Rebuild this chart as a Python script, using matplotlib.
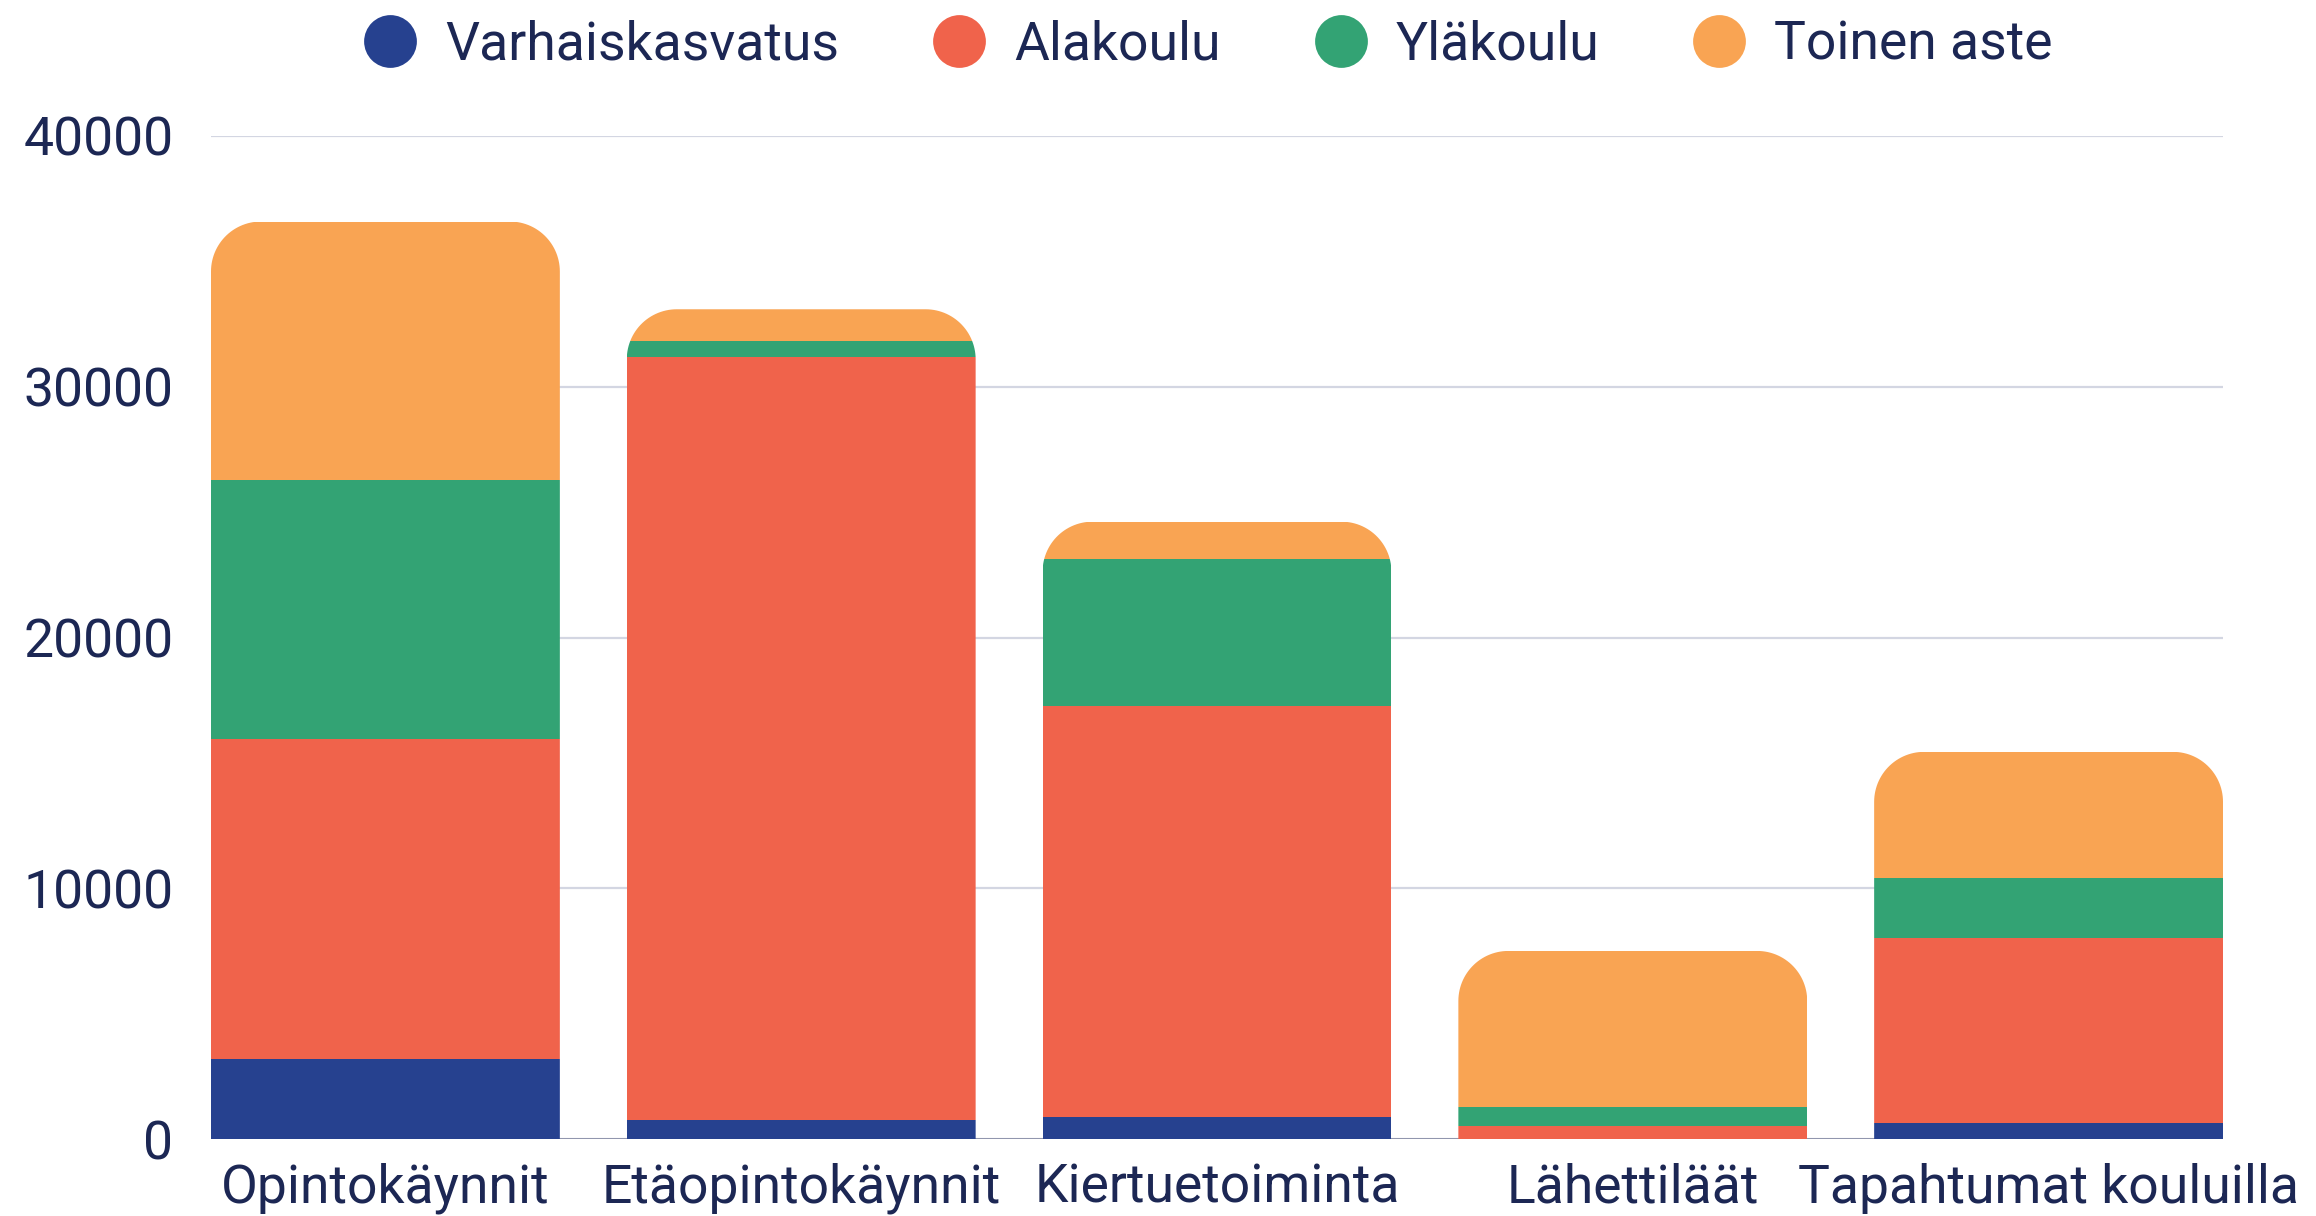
import matplotlib
matplotlib.use("Agg")
import matplotlib.pyplot as plt
import numpy as np
from matplotlib.path import Path
from matplotlib.patches import PathPatch
from matplotlib.lines import Line2D

categories = ["Opintokäynnit", "Etäopintokäynnit", "Kiertuetoiminta", "Lähettiläät", "Tapahtumat kouluilla"]
series_names = ["Varhaiskasvatus", "Alakoulu", "Yläkoulu", "Toinen aste"]
varhaiskasvatus = [3190, 760, 885, 0, 650]
alakoulu = [12750, 30420, 16365, 530, 7380]
ylakoulu = [10340, 660, 5880, 760, 2390]
toinen_aste = [10310, 1250, 1490, 6210, 5020]
yticks = [0, 10000, 20000, 30000, 40000]

colors = ["#26418f", "#f0634b", "#33a374", "#f9a453"]
text_color = "#1c2754"

plt.rcParams['font.family'] = ['Roboto', 'DejaVu Sans']

fig = plt.figure(figsize=(23.16, 12.16), dpi=100)
ax = fig.add_axes([211/2316, 1 - 1139/1216, (2223-211)/2316, (1139-136)/1216])

x = np.arange(len(categories))
width = 0.839
data = [varhaiskasvatus, alakoulu, ylakoulu, toinen_aste]
bottom = np.zeros(len(categories))
containers = []
for vals, col, name in zip(data, colors, series_names):
    vals = np.array(vals, dtype=float)
    bc = ax.bar(x, vals, width, bottom=bottom, color=col, linewidth=0, zorder=3, label=name)
    containers.append(bc)
    bottom = bottom + vals
totals = bottom

ax.set_xlim(-width/2, len(categories) - 1 + width/2)
ax.set_ylim(0, 40000)
ax.set_yticks(yticks)
ax.set_yticklabels([str(v) for v in yticks])
ax.set_xticks(x)
ax.set_xticklabels(categories)
ax.tick_params(axis='both', length=0, labelsize=38.5, labelcolor=text_color)
ax.tick_params(axis='y', pad=27)
ax.tick_params(axis='x', pad=17)
for s in ax.spines.values():
    s.set_visible(False)
ax.grid(axis='y', color='#d3d6e2', linewidth=1.6, zorder=0)
ax.set_axisbelow(True)
ax.axhline(0, color='#8a8fa8', linewidth=2, zorder=2)

# rounded top corners for each stack (radius in pixels)
fig.canvas.draw()
bb = ax.get_window_extent()
r_px = 50
rx = r_px / bb.width * (ax.get_xlim()[1] - ax.get_xlim()[0])
ry = r_px / bb.height * (ax.get_ylim()[1] - ax.get_ylim()[0])
for i in range(len(categories)):
    x0 = x[i] - width/2
    x1 = x[i] + width/2
    T = totals[i]
    t = np.linspace(0, np.pi/2, 30)
    verts = [(x0, 0), (x0, T - ry)]
    for a in t:
        verts.append((x0 + rx - rx*np.cos(a), T - ry + ry*np.sin(a)))
    for a in t[::-1]:
        verts.append((x1 - rx + rx*np.cos(a), T - ry + ry*np.sin(a)))
    verts.append((x1, 0))
    verts.append((x0, 0))
    codes = [Path.MOVETO] + [Path.LINETO]*(len(verts)-2) + [Path.CLOSEPOLY]
    clip = PathPatch(Path(verts, codes), transform=ax.transData, facecolor='none', edgecolor='none')
    for bc in containers:
        bc.patches[i].set_clip_path(clip)

handles = [Line2D([0], [0], marker='o', linestyle='none', markersize=38,
                  markerfacecolor=c, markeredgewidth=0) for c in colors]
fig.legend(handles, series_names, loc='center', bbox_to_anchor=(1208/2316, 1 - 45/1216),
           ncol=4, frameon=False, fontsize=38.5, labelcolor=text_color,
           handlelength=1.0, handletextpad=0.52, columnspacing=1.75, borderaxespad=0)

fig.savefig("out.png", dpi=100)
